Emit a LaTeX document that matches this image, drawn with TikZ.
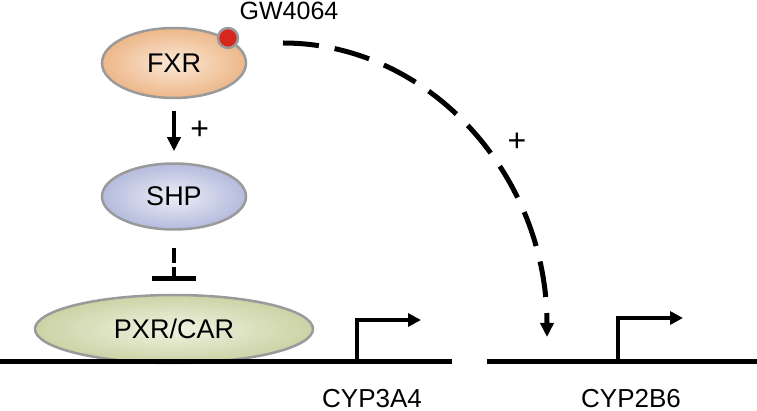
\documentclass[tikz,border=0pt]{standalone}
\usepackage{fontspec}
\setmainfont{Liberation Sans}
\usepackage{tikz}
\usetikzlibrary{arrows.meta,positioning,shapes.geometric,calc}

\definecolor{rimgray}{HTML}{9A9A9A}
\definecolor{fxrin}{HTML}{FBE8D6}
\definecolor{fxrout}{HTML}{EDB789}
\definecolor{shpin}{HTML}{ECEEF6}
\definecolor{shpout}{HTML}{B4BBDD}
\definecolor{pxrin}{HTML}{F0F3E2}
\definecolor{pxrout}{HTML}{CBD3A5}
\definecolor{dotred}{HTML}{D7261C}

\begin{document}
\begin{tikzpicture}[
    x=1pt, y=-1pt,
    prot/.style={draw=rimgray, line width=2.5pt, ellipse, inner sep=0pt, font=\fontsize{27}{30}\selectfont},
    lbl/.style={font=\fontsize{26}{29}\selectfont, anchor=base, inner sep=0pt},
    plus/.style={font=\fontsize{32}{34}\selectfont, inner sep=0pt},
    dna/.style={line width=5pt},
    arr/.style={line width=4.5pt, -{Triangle[length=14pt,width=13pt]}},
    prom/.style={line width=4.5pt, -{Triangle[length=13pt,width=13pt]}}
  ]
    \useasboundingbox (0,0) rectangle (757,411);

    \node[prot, minimum width=144pt, minimum height=70pt,
          inner color=fxrin, outer color=fxrout] (fxr) at (174,63) {FXR};
    \node[prot, minimum width=144pt, minimum height=66pt,
          inner color=shpin, outer color=shpout, below=63pt of fxr] (shp) {SHP};
    \node[prot, minimum width=278pt, minimum height=68pt,
          inner color=pxrin, outer color=pxrout, below=63pt of shp] (pxr) {PXR/CAR};
    \node[circle, fill=dotred, draw=rimgray, line width=2.5pt, minimum size=20pt,
          inner sep=0pt] (gw) at (228,38) {};
    \node[lbl, font=\fontsize{25}{28}\selectfont] (gwlabel) at (289,20) {GW4064};

    % DNA
    \coordinate (l1a) at (0,361);
    \coordinate (l1b) at (452,361);
    \coordinate (l2a) at (487,361);
    \coordinate (l2b) at (757,361);
    \coordinate (tss1) at (357,361);
    \coordinate (tss2) at (618,361);
    \draw[dna] (l1a) -- (l1b);
    \draw[dna] (l2a) -- (l2b);
    \draw[prom] (tss1) -- ++(0,-41) -- ++(64,0);
    \draw[prom] (tss2) -- ++(0,-43) -- ++(65,0);
    \node[lbl] (cyp3a4) at (372,407) {CYP3A4};
    \node[lbl] (cyp2b6) at (631,407) {CYP2B6};

    % regulation
    \draw[arr, shorten <=12pt, shorten >=11pt] (fxr) -- node[plus, right=14pt]{+} (shp);
    \draw[line width=4.5pt, dash pattern=on 15pt off 4pt, shorten <=17pt, shorten >=13pt,
          -{Bar[width=44pt,line width=4.5pt]}] (shp) -- (pxr);
    \coordinate (cstart) at (283,43);
    \coordinate (cend) at (547,337);
    \draw[arr, line width=5pt, dash pattern=on 36pt off 16pt]
      (cstart) .. controls (429,43) and (547,175) .. (cend);
    \node[plus] (plus2) at (517,142) {+};
  \end{tikzpicture}
\end{document}
